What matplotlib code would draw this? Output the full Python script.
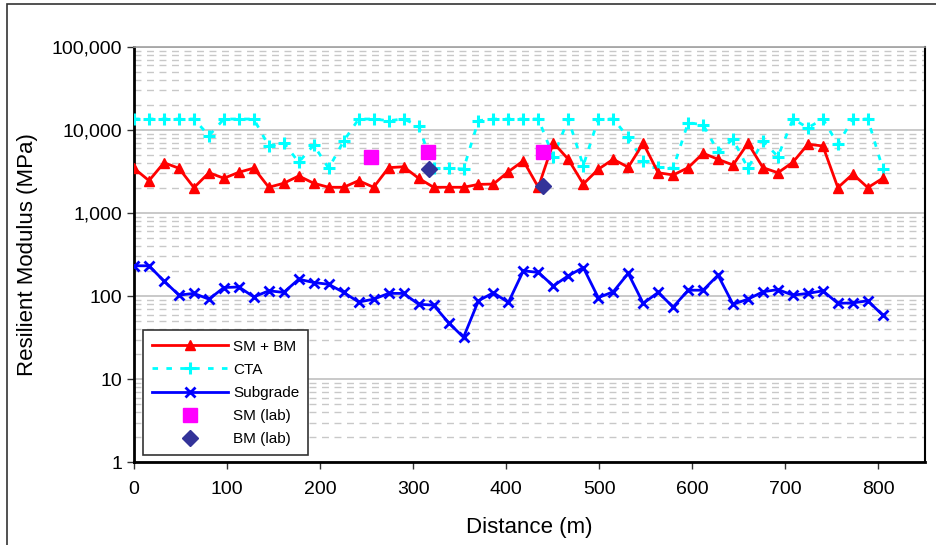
import matplotlib.pyplot as plt
from matplotlib.patches import Rectangle
from matplotlib.ticker import FuncFormatter, LogLocator, NullFormatter

plt.rcParams["font.family"] = ["Liberation Sans", "DejaVu Sans"]

# distance along the section (m), one reading every 0.01 mile
distance = [0, 16.1, 32.2, 48.3, 64.4, 80.5, 96.6, 112.7, 128.7, 144.8,
            160.9, 177.0, 193.1, 209.2, 225.3, 241.4, 257.5, 273.6, 289.7, 305.8,
            321.9, 338.0, 354.1, 370.1, 386.2, 402.3, 418.4, 434.5, 450.6, 466.7,
            482.8, 498.9, 515.0, 531.1, 547.2, 563.3, 579.4, 595.5, 611.6, 627.6,
            643.7, 659.8, 675.9, 692.0, 708.1, 724.2, 740.3, 756.4, 772.5, 788.6,
            804.7]

sm_bm = [3450, 2450, 4030, 3450, 2020, 3050, 2620, 3090, 3470, 2040,
         2280, 2790, 2280, 2040, 2040, 2450, 2040, 3510, 3600, 2620,
         2040, 2040, 2040, 2210, 2230, 3140, 4250, 2040, 7010, 4430,
         2230, 3360, 4430, 3550, 6900, 3050, 2870, 3510, 5230, 4430,
         3780, 6900, 3510, 3050, 4080, 6720, 6400, 2020, 2940, 2020,
         2620]

cta = [13500, 13500, 13500, 13500, 13500, 8510, 13500, 13500, 13500, 6400,
       7010, 4080, 6580, 3450, 7340, 13500, 13500, 12900, 13500, 11200,
       3450, 3450, 3390, 12900, 13500, 13500, 13500, 13500, 4770, 13500,
       3710, 13500, 13500, 8150, 4250, 3550, 3450, 12200, 11500, 5470,
       7710, 3450, 7340, 4770, 13500, 10600, 13500, 6720, 13500, 13500,
       3390]

subgrade = [232, 232, 152, 103, 108, 92, 127, 129, 98, 116,
            111, 160, 146, 139, 111, 85, 92, 108, 108, 80,
            78, 48, 32, 88, 110, 84, 202, 193, 133, 176,
            221, 96, 113, 188, 82, 111, 74, 118, 118, 179,
            80, 92, 113, 120, 103, 108, 116, 82, 83, 88,
            59]

sm_lab_x = [255, 316, 439]
sm_lab = [4760, 5380, 5380]
bm_lab_x = [317, 439]
bm_lab = [3360, 2130]

x_ticks = [0, 100, 200, 300, 400, 500, 600, 700, 800]


def main():
    fig = plt.figure(figsize=(9.36, 5.45), dpi=100)
    ax = fig.add_axes([0.1432, 0.1514, 0.8450, 0.7629])

    # chart-area frame
    fig.add_artist(Rectangle((7 / 936, -0.1), 1.2, 1.1 - 4 / 545,
                             transform=fig.transFigure, fill=False,
                             edgecolor="#333333", linewidth=1.2))

    ax.plot(distance, sm_bm, color="#ff0000", linewidth=2, marker="^",
            markersize=7, label="SM + BM", zorder=4)
    ax.plot(distance, cta, color="#00ffff", linewidth=2, linestyle=(0, (2, 3)),
            marker="+", markersize=9, markeredgewidth=2.2, label="CTA", zorder=3)
    ax.plot(distance, subgrade, color="#0000ff", linewidth=2, marker="x",
            markersize=7, markeredgewidth=2, label="Subgrade", zorder=4)
    ax.plot(sm_lab_x, sm_lab, linestyle="none", marker="s", markersize=10,
            color="#ff00ff", label="SM (lab)", zorder=5)
    ax.plot(bm_lab_x, bm_lab, linestyle="none", marker="D", markersize=8,
            color="#333399", label="BM (lab)", zorder=6)

    ax.set_yscale("log")
    ax.set_ylim(1, 100000)
    ax.set_xlim(0, 850)
    ax.set_xticks(x_ticks)

    ax.yaxis.set_major_formatter(FuncFormatter(lambda v, p: f"{v:,.0f}"))
    ax.yaxis.set_minor_locator(LogLocator(base=10, subs=range(2, 10)))
    ax.yaxis.set_minor_formatter(NullFormatter())

    ax.grid(True, which="major", axis="y", color="#c0c0c0", linewidth=1.2)
    ax.grid(True, which="minor", axis="y", color="#c8c8c8", linewidth=1,
            linestyle=(0, (5, 4)))
    ax.set_axisbelow(True)

    ax.tick_params(axis="both", which="major", direction="out", length=5,
                   width=1, labelsize=14, color="#333333")
    ax.tick_params(axis="y", which="minor", length=0)
    ax.tick_params(axis="x", pad=8)

    for side in ["left", "bottom"]:
        ax.spines[side].set_linewidth(2)
        ax.spines[side].set_color("black")
    ax.spines["right"].set_linewidth(1.5)
    ax.spines["right"].set_color("black")
    ax.spines["top"].set_linewidth(1.2)
    ax.spines["top"].set_color("#a0a0a0")

    ax.set_xlabel("Distance (m)", fontsize=16, labelpad=14)
    ax.set_ylabel("Resilient Modulus (MPa)", fontsize=16, labelpad=10)

    leg = ax.legend(loc="lower left", bbox_to_anchor=(0.011, 0.017),
                    borderaxespad=0, fontsize=11, handlelength=5.0,
                    handletextpad=0.3, labelspacing=0.6, fancybox=False,
                    framealpha=1, edgecolor="#333333", borderpad=0.6)
    leg.get_frame().set_linewidth(1.2)

    fig.savefig("out.png", dpi=100)
    plt.close(fig)


if __name__ == "__main__":
    main()
